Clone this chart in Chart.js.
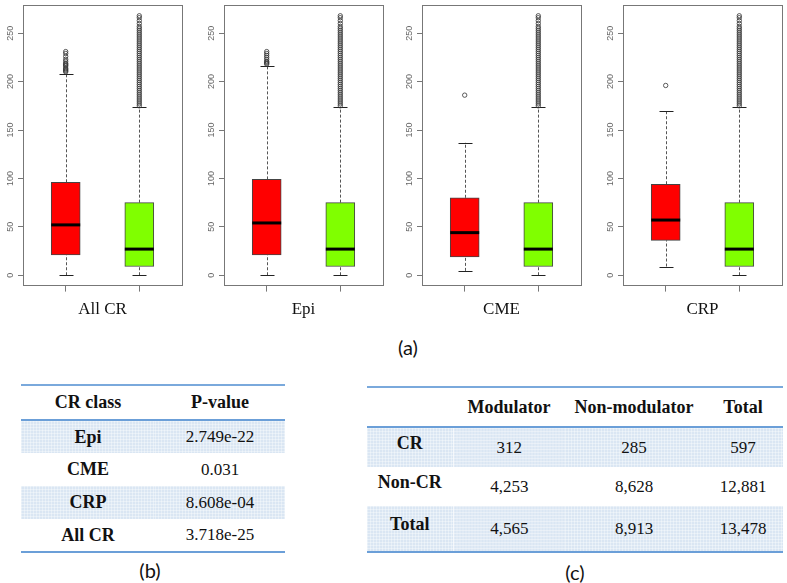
<!DOCTYPE html>
<html>
<head>
<meta charset="utf-8">
<script src="https://cdn.jsdelivr.net/npm/chart.js@4/dist/chart.umd.min.js"></script>
<style>
  body { margin:0; background:#fff; }
  #page { position:relative; width:787px; height:583px; overflow:hidden; }
  .panel { position:absolute; top:0; }
  .cap { position:absolute; font-family:Lato, "Open Sans", sans-serif; font-size:20px; color:#111; transform:translate(-50%,-50%); }
  table { position:absolute; border-collapse:collapse; font-family:"Liberation Serif", serif; color:#111; }
  table td, table th { text-align:center; padding:0; }
  th { font-weight:bold; font-size:18px; }
  td { font-size:17px; }
  td.lab { font-weight:bold; font-size:18px; }
  tr.band td { background-color:#dae6f3;
    background-image:linear-gradient(rgba(255,255,255,.35) 1px, transparent 1px), linear-gradient(90deg, rgba(255,255,255,.35) 1px, transparent 1px);
    background-size:3px 3px; }
  .topline { border-top:2px solid #7aa9dc; }
  .midline { border-bottom:2px solid #6b9fd8; }
  .botline { border-bottom:2px solid #6b9fd8; }
</style>
</head>
<body>
<div id="page">
  <canvas class="panel" id="p0" width="200" height="325" style="left:0px"></canvas>
  <canvas class="panel" id="p1" width="200" height="325" style="left:201px"></canvas>
  <canvas class="panel" id="p2" width="200" height="325" style="left:399px"></canvas>
  <canvas class="panel" id="p3" width="200" height="325" style="left:600px"></canvas>
  <div class="cap" style="left:408px; top:347px">(a)</div>

  <table id="tb" style="left:21px; top:384px; width:264px">
    <tr class="midline" style="height:35px"><th class="topline" style="width:134px">CR class</th><th class="topline">P-value</th></tr>
  </table>
  <div class="cap" style="left:150px; top:570px">(b)</div>

  <table id="tc" style="left:367px; top:386px; width:416px">
    <tr class="midline" style="height:40px"><th class="topline" style="width:86px"></th><th class="topline" style="width:112px">Modulator</th><th class="topline" style="width:138px">Non-modulator</th><th class="topline">Total</th></tr>
  </table>
  <div class="cap" style="left:575px; top:572px">(c)</div>
</div>

<script>
// panels of the box plot figure
const panels = ['All CR', 'Epi', 'CME', 'CRP'];
// [min, q1, median, q3, upper whisker] of CR genes (red)
const crStats = [
  [0, 21, 52, 96, 208],
  [0, 21, 54, 99, 216],
  [4.5, 19, 44, 80, 137],
  [9, 36, 57, 94, 170]
];
// non-CR genes (green), same in every panel
const nonCrStats = [0, 9, 27, 75, 174];
const crOutliers = [
  [210, 211, 212, 213, 214, 216, 217, 218, 219, 221, 223, 226, 229, 231],
  [218, 219, 220, 221, 223, 225, 227, 229, 231],
  [186],
  [196]
];
const nonCrOutliers = [175, 177, 179, 181, 183, 185, 187, 189, 191, 193, 195, 197, 199, 201,
  203, 205, 207, 209, 211, 213, 215, 217, 219, 221, 223, 225, 227, 229, 231, 233, 235, 237,
  239, 241, 243, 245, 247, 249, 251, 253, 255, 257, 260, 263, 266, 268];
const yTicks = [0, 50, 100, 150, 200, 250];
const boxColors = ['#ff0000', '#80ff00'];

// table (b)
const pClasses = ['Epi', 'CME', 'CRP', 'All CR'];
const pValues = ['2.749e-22', '0.031', '8.608e-04', '3.718e-25'];
// table (c)
const cRows = ['CR', 'Non-CR', 'Total'];
const cModulator = ['312', '4,253', '4,565'];
const cNonModulator = ['285', '8,628', '8,913'];
const cTotal = ['597', '12,881', '13,478'];

// whiskers, caps, medians and the frame round the plot
const boxPlugin = {
  id: 'boxplot',
  beforeDatasetsDraw(chart, args, opts) {
    const ctx = chart.ctx, x = chart.scales.x, y = chart.scales.y;
    ctx.save();
    opts.stats.forEach((s, i) => {
      const px = Math.round(x.getPixelForValue(i + 1)) + 0.5;
      ctx.strokeStyle = '#555';
      ctx.lineWidth = 1;
      ctx.setLineDash([3, 2]);
      ctx.beginPath();
      ctx.moveTo(px, y.getPixelForValue(s[0])); ctx.lineTo(px, y.getPixelForValue(s[1]));
      ctx.moveTo(px, y.getPixelForValue(s[3])); ctx.lineTo(px, y.getPixelForValue(s[4]));
      ctx.stroke();
      ctx.setLineDash([]);
      ctx.strokeStyle = '#222';
      ctx.beginPath();
      [s[0], s[4]].forEach(v => {
        const py = Math.round(y.getPixelForValue(v)) + 0.5;
        ctx.moveTo(px - 7, py); ctx.lineTo(px + 7, py);
      });
      ctx.stroke();
    });
    ctx.restore();
  },
  afterDatasetsDraw(chart, args, opts) {
    const ctx = chart.ctx, x = chart.scales.x, y = chart.scales.y, a = chart.chartArea;
    ctx.save();
    ctx.strokeStyle = '#000';
    ctx.lineWidth = 3;
    opts.stats.forEach((s, i) => {
      const px = x.getPixelForValue(i + 1), py = y.getPixelForValue(s[2]);
      ctx.beginPath(); ctx.moveTo(px - 14.5, py); ctx.lineTo(px + 14.5, py); ctx.stroke();
    });
    ctx.strokeStyle = '#777';
    ctx.lineWidth = 1;
    ctx.strokeRect(Math.round(a.left) + 0.5, Math.round(a.top) + 0.5,
      Math.round(a.right - a.left), Math.round(a.bottom - a.top));
    ctx.restore();
  }
};

panels.forEach((name, i) => {
  const stats = [crStats[i], nonCrStats];
  const outPts = crOutliers[i].map(v => ({x: 1, y: v}))
    .concat(nonCrOutliers.map(v => ({x: 2, y: v})));
  new Chart(document.getElementById('p' + i), {
    type: 'bar',
    data: {
      datasets: [{
        type: 'bar',
        data: stats.map((s, k) => ({x: k + 1, y: [s[1], s[3]]})),
        backgroundColor: boxColors,
        borderColor: '#444',
        borderWidth: 1,
        borderSkipped: false,
        barThickness: 29
      }, {
        type: 'scatter',
        data: outPts,
        pointStyle: 'circle',
        pointRadius: 2.2,
        borderColor: '#333',
        borderWidth: 0.8,
        backgroundColor: 'rgba(0,0,0,0)'
      }]
    },
    options: {
      responsive: false,
      animation: false,
      events: [],
      layout: {padding: {top: 2, right: 18, bottom: 1, left: 0}},
      plugins: {legend: {display: false}, tooltip: {enabled: false}, boxplot: {stats: stats}},
      scales: {
        x: {
          type: 'linear', min: 0.42, max: 2.58, offset: false,
          afterBuildTicks: s => { s.ticks = [{value: 1}, {value: 2}]; },
          ticks: {display: false},
          grid: {drawOnChartArea: false, offset: false, tickLength: 6, color: '#777'},
          border: {display: false},
          title: {display: true, text: name, color: '#111',
            font: {family: 'Liberation Serif', size: 17}, padding: {top: 8, bottom: 4}}
        },
        y: {
          min: -10.7, max: 278.7,
          afterBuildTicks: s => { s.ticks = yTicks.map(v => ({value: v})); },
          afterFit: s => { s.width = 23; },
          ticks: {minRotation: 90, maxRotation: 90, crossAlign: 'center', padding: 0,
            color: '#666', font: {family: 'Liberation Sans', size: 9}},
          grid: {drawOnChartArea: false, tickLength: 5, color: '#777'},
          border: {display: false}
        }
      }
    },
    plugins: [boxPlugin]
  });
});

// fill the two tables
const tb = document.getElementById('tb');
pClasses.forEach((c, i) => {
  const tr = document.createElement('tr');
  tr.style.height = '33px';
  if (i % 2 === 0) tr.className = 'band';
  if (i === pClasses.length - 1) tr.classList.add('botline');
  tr.innerHTML = '<td class="lab">' + c + '</td><td>' + pValues[i] + '</td>';
  tb.appendChild(tr);
});
const tc = document.getElementById('tc');
const cHeights = [40, 39, 46];
cRows.forEach((r, i) => {
  const tr = document.createElement('tr');
  tr.style.height = cHeights[i] + 'px';
  if (i % 2 === 0) tr.className = 'band';
  if (i === cRows.length - 1) tr.classList.add('botline');
  tr.innerHTML = '<td class="lab" style="padding-bottom:8px;border-right:1px solid rgba(255,255,255,.6)">' + r + '</td><td>' + cModulator[i] +
    '</td><td>' + cNonModulator[i] + '</td><td>' + cTotal[i] + '</td>';
  tc.appendChild(tr);
});
</script>
</body>
</html>
